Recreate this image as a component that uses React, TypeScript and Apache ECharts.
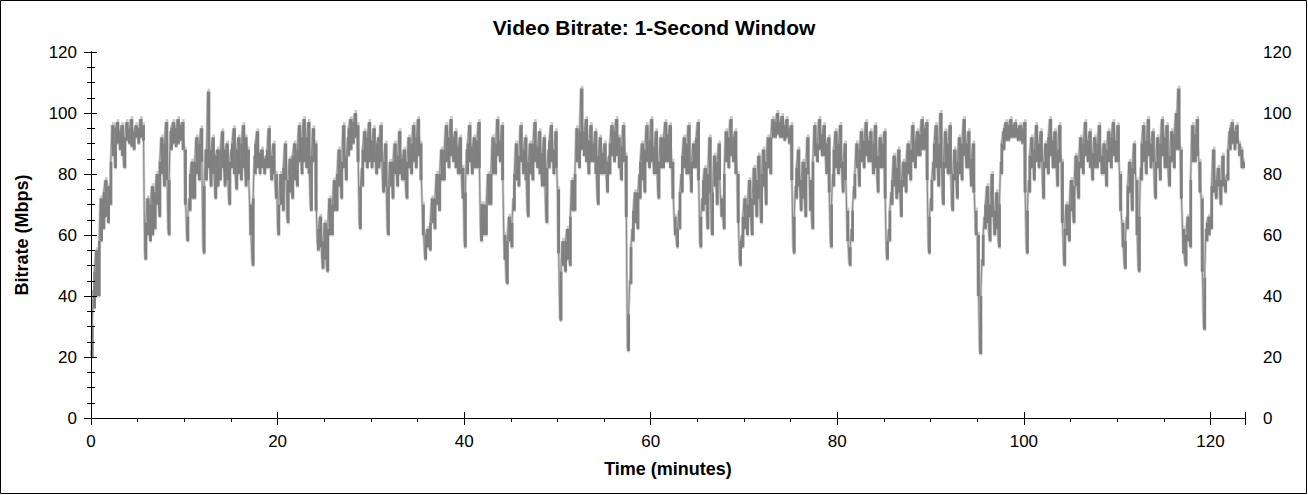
import React, { useEffect, useRef } from "react";
import * as echarts from "echarts";

const chartTitle = "Video Bitrate: 1-Second Window";
const xAxisTitle = "Time (minutes)";
const yAxisTitle = "Bitrate (Mbps)";
const sampleStepMinutes = 0.25;
const lowOffsetMinutes = 0.0625;
const midOffsetMinutes = 0.125;
const timeMaxMinutes = 123.7;
const yTicks = [0, 20, 40, 60, 80, 100, 120];
const xTickLabels = [0, 20, 40, 60, 80, 100, 120];

const bitrate: number[] = [
  22, 42, 55, 44, 72, 66, 78, 70, 74, 96, 86, 97, 92, 96, 83, 97,
  94, 98, 90, 96, 95, 98, 96, 55, 72, 62, 76, 68, 80, 70, 92, 82,
  97, 62, 94, 97, 93, 98, 95, 97, 88, 60, 72, 84, 78, 92, 82, 95,
  56, 88, 107, 80, 92, 76, 88, 82, 94, 80, 90, 72, 88, 95, 78, 92,
  84, 96, 80, 88, 70, 52, 86, 94, 85, 88, 84, 86, 95, 82, 90, 75,
  63, 80, 72, 90, 66, 85, 76, 90, 80, 96, 84, 98, 88, 97, 70, 95,
  90, 58, 66, 52, 64, 49, 72, 62, 78, 70, 88, 76, 96, 82, 92, 98,
  95, 100, 96, 64, 82, 94, 86, 97, 88, 95, 84, 92, 96, 78, 90, 62,
  84, 76, 90, 80, 94, 82, 88, 74, 92, 84, 96, 86, 98, 90, 70, 54,
  62, 58, 72, 66, 80, 72, 88, 82, 96, 86, 98, 88, 94, 84, 92, 76,
  58, 88, 96, 84, 92, 86, 97, 61, 70, 62, 80, 74, 92, 84, 98, 88,
  96, 60, 45, 66, 58, 72, 90, 80, 96, 84, 92, 68, 90, 82, 97, 86,
  94, 80, 92, 66, 88, 96, 84, 94, 75, 33, 58, 50, 62, 52, 78, 70,
  95, 86, 108, 92, 98, 84, 96, 88, 94, 72, 92, 84, 90, 78, 86, 96,
  90, 98, 92, 80, 96, 86, 23, 45, 62, 74, 66, 80, 90, 78, 96, 86,
  98, 84, 94, 74, 92, 86, 97, 88, 96, 84, 66, 58, 68, 80, 92, 84,
  96, 78, 90, 86, 97, 58, 72, 82, 66, 92, 61, 86, 76, 90, 70, 65,
  94, 86, 98, 88, 94, 80, 52, 60, 72, 64, 78, 62, 82, 70, 86, 66,
  88, 74, 92, 84, 98, 95, 100, 96, 99, 94, 98, 93, 96, 56, 76, 88,
  72, 84, 70, 92, 78, 65, 96, 88, 98, 90, 96, 84, 92, 58, 80, 94,
  84, 96, 78, 90, 68, 51, 62, 76, 90, 80, 94, 86, 97, 88, 94, 84,
  96, 78, 92, 86, 94, 54, 62, 74, 86, 76, 88, 70, 84, 78, 90, 82,
  96, 86, 94, 90, 98, 92, 97, 56, 72, 84, 96, 80, 100, 72, 94, 84,
  96, 70, 88, 76, 92, 82, 98, 86, 94, 80, 90, 68, 60, 22, 52, 66,
  76, 60, 80, 64, 74, 58, 84, 94, 97, 94, 98, 95, 97, 94, 96, 93,
  97, 56, 78, 92, 82, 96, 86, 94, 76, 90, 84, 98, 88, 94, 80, 96,
  84, 52, 70, 60, 78, 66, 86, 74, 92, 84, 97, 88, 94, 82, 92, 86,
  96, 84, 90, 80, 94, 86, 97, 88, 96, 80, 64, 50, 66, 84, 72, 90,
  78, 49, 82, 96, 84, 98, 86, 94, 74, 92, 82, 98, 88, 96, 78, 94,
  86, 100, 108, 88, 62, 51, 66, 58, 96, 88, 98, 84, 72, 30, 62, 66,
  64, 88, 74, 82, 72, 86, 76, 80, 94, 97, 92, 96, 90, 88, 84,
];

// Lowest reading (Mbps) inside each quarter-minute window, at t = i * 0.25 + 0.0625 min
const bitrateLow: number[] = [
  20, 36, 40, 40, 58, 62, 66, 64, 70, 86, 82, 90, 88, 86, 82, 91,
  90, 89, 88, 92, 90, 92, 91, 52, 60, 58, 60, 62, 70, 66, 80, 76,
  78, 60, 88, 90, 89, 90, 91, 88, 70, 58, 68, 72, 72, 80, 78, 84,
  54, 78, 82, 76, 80, 72, 76, 78, 82, 76, 78, 70, 82, 80, 75, 80,
  78, 82, 76, 78, 60, 50, 80, 82, 80, 82, 80, 82, 82, 78, 80, 72,
  60, 70, 68, 78, 64, 74, 72, 78, 76, 84, 80, 84, 82, 80, 68, 84,
  68, 55, 56, 49, 52, 48, 60, 60, 68, 68, 76, 72, 82, 78, 86, 88,
  90, 92, 84, 62, 76, 84, 82, 84, 82, 84, 80, 82, 84, 74, 76, 60,
  76, 72, 80, 76, 80, 78, 78, 72, 82, 80, 84, 82, 86, 78, 60, 52,
  56, 55, 64, 62, 70, 68, 78, 78, 84, 82, 86, 84, 82, 80, 80, 72,
  56, 80, 84, 80, 82, 82, 82, 58, 60, 60, 70, 70, 80, 80, 86, 84,
  78, 52, 44, 58, 56, 68, 78, 76, 84, 80, 78, 66, 80, 78, 84, 82,
  80, 76, 76, 64, 82, 84, 80, 82, 54, 32, 50, 48, 52, 50, 68, 68,
  84, 82, 88, 86, 84, 80, 84, 84, 80, 70, 80, 80, 80, 74, 80, 86,
  84, 86, 82, 78, 84, 66, 22, 44, 58, 64, 62, 72, 78, 74, 84, 82,
  84, 80, 80, 72, 82, 82, 84, 84, 82, 72, 60, 56, 62, 74, 82, 80,
  80, 74, 82, 82, 78, 56, 68, 70, 62, 74, 60, 76, 70, 78, 66, 62,
  84, 82, 86, 84, 80, 64, 50, 56, 62, 60, 66, 60, 70, 66, 72, 64,
  76, 70, 82, 80, 92, 92, 93, 92, 92, 91, 92, 90, 78, 54, 72, 76,
  68, 72, 66, 80, 68, 62, 86, 84, 88, 86, 86, 80, 74, 56, 76, 82,
  80, 82, 74, 78, 58, 50, 58, 72, 82, 76, 84, 82, 86, 84, 84, 80,
  82, 74, 82, 82, 72, 52, 58, 70, 76, 72, 74, 66, 76, 74, 80, 78,
  84, 82, 86, 86, 88, 88, 78, 54, 68, 78, 82, 76, 82, 70, 82, 80,
  80, 68, 78, 72, 80, 78, 86, 82, 82, 76, 74, 60, 40, 21, 50, 62,
  64, 58, 66, 60, 62, 56, 80, 88, 91, 91, 92, 92, 92, 91, 91, 90,
  74, 54, 74, 82, 78, 84, 82, 84, 72, 82, 80, 86, 82, 82, 76, 84,
  64, 50, 60, 58, 68, 64, 76, 72, 82, 80, 86, 84, 82, 78, 82, 82,
  84, 80, 80, 76, 84, 82, 86, 84, 84, 68, 56, 49, 62, 74, 68, 80,
  60, 48, 78, 84, 80, 86, 82, 84, 72, 82, 78, 86, 82, 82, 76, 84,
  82, 88, 88, 72, 54, 50, 58, 56, 84, 84, 86, 74, 48, 29, 58, 60,
  62, 74, 72, 76, 70, 76, 74, 78, 88, 90, 88, 90, 86, 82, 82,
];

// Video bitrate (Mbps) sampled at t = i * 0.25 + 0.125 min (in-between samples)
const bitrateMid: number[] = [
  30, 48, 46, 58, 68, 74, 71, 76, 84, 92, 95, 93, 94, 90, 92, 94,
  95, 93, 94, 95, 93, 95, 94, 64, 66, 70, 64, 74, 76, 84, 86, 90,
  84, 78, 95, 93, 95, 94, 96, 93, 74, 66, 80, 76, 84, 86, 90, 86,
  76, 84, 86, 88, 84, 86, 80, 88, 86, 88, 82, 84, 90, 84, 88, 86,
  90, 86, 92, 82, 62, 72, 90, 86, 87, 86, 85, 88, 88, 86, 84, 80,
  70, 76, 82, 84, 78, 80, 86, 84, 88, 90, 92, 88, 92, 84, 86, 90,
  72, 62, 60, 58, 56, 62, 66, 70, 74, 80, 82, 84, 88, 86, 95, 94,
  97, 96, 88, 76, 88, 90, 92, 88, 91, 88, 90, 86, 88, 84, 80, 76,
  80, 84, 85, 86, 86, 85, 82, 84, 88, 90, 89, 92, 93, 82, 62, 60,
  60, 64, 68, 72, 76, 80, 84, 88, 90, 92, 91, 92, 88, 89, 86, 82,
  74, 90, 88, 89, 88, 91, 86, 70, 66, 70, 77, 80, 86, 90, 92, 91,
  82, 56, 58, 62, 64, 80, 84, 86, 90, 88, 82, 84, 86, 90, 91, 89,
  86, 87, 80, 82, 91, 89, 88, 86, 56, 48, 55, 58, 56, 66, 74, 80,
  90, 94, 96, 94, 90, 91, 92, 90, 84, 86, 88, 87, 85, 84, 90, 92,
  94, 93, 88, 89, 91, 70, 34, 56, 68, 70, 74, 84, 84, 88, 90, 91,
  90, 89, 86, 84, 89, 92, 91, 93, 90, 76, 62, 62, 74, 86, 88, 90,
  86, 84, 88, 92, 82, 66, 78, 74, 80, 78, 74, 80, 84, 80, 72, 80,
  90, 92, 91, 92, 86, 68, 58, 66, 68, 70, 70, 72, 76, 78, 76, 80,
  82, 84, 88, 92, 96, 97, 96, 97, 96, 96, 95, 95, 80, 66, 82, 80,
  78, 76, 82, 84, 72, 84, 92, 90, 94, 93, 90, 90, 76, 70, 88, 86,
  90, 86, 84, 82, 60, 56, 68, 80, 86, 88, 90, 91, 92, 91, 89, 90,
  88, 86, 89, 90, 74, 58, 68, 78, 80, 82, 78, 78, 80, 84, 86, 88,
  90, 91, 92, 93, 94, 95, 80, 66, 78, 90, 88, 90, 86, 84, 88, 90,
  84, 80, 82, 84, 86, 90, 92, 90, 86, 85, 78, 64, 44, 40, 60, 70,
  68, 70, 72, 68, 66, 70, 90, 95, 95, 96, 96, 96, 95, 95, 94, 95,
  76, 68, 86, 86, 88, 90, 90, 88, 84, 86, 92, 92, 91, 86, 88, 90,
  66, 62, 64, 70, 72, 76, 80, 84, 88, 90, 92, 91, 88, 87, 89, 90,
  90, 86, 85, 88, 90, 92, 92, 91, 88, 70, 58, 58, 76, 78, 82, 84,
  62, 66, 90, 90, 91, 92, 90, 88, 84, 86, 90, 92, 92, 86, 86, 90,
  93, 96, 95, 74, 56, 60, 62, 78, 92, 93, 90, 78, 50, 46, 64, 62,
  76, 80, 78, 80, 78, 80, 78, 88, 95, 94, 94, 93, 89, 86,
];

const FONT = "'Liberation Sans', Arial, Helvetica, sans-serif";

export default function App() {
  const ref = useRef<HTMLDivElement>(null);

  useEffect(() => {
    if (!ref.current) return;
    const chart = echarts.init(ref.current, undefined, { renderer: "svg" });

    // all readings, in time order
    const points: number[][] = [];
    // per quarter-minute window: [window centre, min reading, max reading]
    const windows: number[][] = [];
    bitrate.forEach((v, i) => {
      const t = i * sampleStepMinutes;
      const readings = [v];
      points.push([t, v]);
      if (i < bitrateLow.length) {
        points.push([t + lowOffsetMinutes, bitrateLow[i]]);
        readings.push(bitrateLow[i]);
      }
      if (i < bitrateMid.length) {
        points.push([t + midOffsetMinutes, bitrateMid[i]]);
        readings.push(bitrateMid[i]);
      }
      windows.push([t + midOffsetMinutes, Math.min(...readings), Math.max(...readings)]);
    });

    const makeBars = (fill: string, padTop: number, padBottom: number) =>
      (params: any, api: any) => {
        const t = api.value(0);
        const top = api.coord([t, api.value(2)]);
        const bot = api.coord([t, api.value(1)]);
        const w = api.size([sampleStepMinutes, 0])[0];
        const x0 = Math.max(top[0] - w / 2, params.coordSys.x);
        const x1 = Math.min(top[0] + w / 2 + 0.3, params.coordSys.x + params.coordSys.width);
        return {
          type: "rect",
          shape: {
            x: x0,
            y: top[1] - padTop,
            width: Math.max(x1 - x0, 0),
            height: Math.max(bot[1] - top[1], 1) + padTop + padBottom,
          },
          style: { fill },
        };
      };

    const gridPos = { left: 91, right: 63, top: 52, bottom: 77, containLabel: false };
    const black = { color: "#000", width: 1 };
    const xBase = { type: "value" as const, min: 0, max: timeMaxMinutes, splitLine: { show: false } };
    const yBase = { type: "value" as const, min: 0, max: 120, interval: 20, splitLine: { show: false } };
    const tickLabelStyle = { color: "#000", fontFamily: FONT, fontSize: 17 };
    const nameStyle = { fontFamily: FONT, fontSize: 18, fontWeight: "bold", color: "#000" };

    chart.setOption({
      animation: false,
      backgroundColor: "#fff",
      title: {
        text: chartTitle,
        left: "center",
        top: 12,
        textStyle: { fontFamily: FONT, fontSize: 21, fontWeight: "bold", color: "#000" },
      },
      graphic: [
        {
          type: "rect",
          shape: { x: 0.5, y: 0.5, width: 1306, height: 493 },
          style: { fill: "none", stroke: "#000", lineWidth: 1 },
          silent: true,
          z: 100,
        },
      ],
      grid: [gridPos, gridPos, gridPos],
      xAxis: [
        {
          ...xBase,
          gridIndex: 0,
          position: "bottom",
          interval: 20,
          axisLine: { show: true, lineStyle: black },
          axisTick: { show: true, inside: false, length: 7, lineStyle: black },
          axisLabel: {
            show: true,
            ...tickLabelStyle,
            margin: 15,
            formatter: (v: number) => (xTickLabels.includes(v) ? String(v) : ""),
          },
          name: xAxisTitle,
          nameLocation: "middle",
          nameGap: 42,
          nameTextStyle: nameStyle,
          z: 10,
        },
        {
          ...xBase,
          gridIndex: 0,
          position: "top",
          interval: 20,
          axisLine: { show: true, lineStyle: black },
          axisTick: { show: true, inside: true, length: 6, lineStyle: black },
          axisLabel: { show: false },
          z: 10,
        },
        {
          ...xBase,
          gridIndex: 1,
          position: "bottom",
          interval: 5,
          axisLine: { show: false },
          axisTick: { show: true, inside: false, length: 4, lineStyle: black },
          axisLabel: { show: false },
        },
        {
          ...xBase,
          gridIndex: 1,
          position: "top",
          interval: 5,
          axisLine: { show: false },
          axisTick: { show: true, inside: true, length: 3, lineStyle: black },
          axisLabel: { show: false },
        },
        {
          ...xBase,
          gridIndex: 2,
          position: "bottom",
          interval: 20,
          axisLine: { show: false },
          axisTick: { show: true, inside: true, length: 6, lineStyle: black },
          axisLabel: { show: false },
        },
      ],
      yAxis: [
        {
          ...yBase,
          gridIndex: 0,
          position: "left",
          axisLine: { show: true, lineStyle: black },
          axisTick: { show: true, inside: false, length: 7, lineStyle: black },
          minorTick: { show: true, splitNumber: 4, length: 4, lineStyle: black },
          minorSplitLine: { show: false },
          axisLabel: {
            ...tickLabelStyle,
            margin: 14,
            formatter: (v: number) => (yTicks.includes(v) ? String(v) : ""),
          },
          name: yAxisTitle,
          nameLocation: "middle",
          nameGap: 60,
          nameTextStyle: nameStyle,
          z: 10,
        },
        {
          ...yBase,
          gridIndex: 0,
          position: "right",
          axisLine: { show: true, lineStyle: black },
          axisTick: { show: true, inside: false, length: 6, lineStyle: black },
          minorTick: { show: true, splitNumber: 4, length: 4, lineStyle: black },
          minorSplitLine: { show: false },
          axisLabel: {
            ...tickLabelStyle,
            margin: 18,
            formatter: (v: number) => (yTicks.includes(v) ? String(v) : ""),
          },
          z: 10,
        },
        {
          ...yBase,
          gridIndex: 1,
          position: "left",
          axisLine: { show: false },
          axisTick: { show: true, inside: true, length: 6, lineStyle: black },
          axisLabel: { show: false },
        },
        {
          ...yBase,
          gridIndex: 1,
          position: "right",
          axisLine: { show: false },
          axisTick: { show: true, inside: true, length: 6, lineStyle: black },
          axisLabel: { show: false },
        },
        {
          ...yBase,
          gridIndex: 2,
          position: "left",
          axisLine: { show: false },
          axisTick: { show: false },
          axisLabel: { show: false },
        },
      ],
      series: [
        {
          name: "Window range halo",
          type: "custom",
          xAxisIndex: 0,
          yAxisIndex: 0,
          data: windows,
          renderItem: makeBars("#c9c9c9", 3, 1.5),
          z: 1,
        },
        {
          name: "Bitrate halo",
          type: "line",
          xAxisIndex: 0,
          yAxisIndex: 0,
          data: points,
          showSymbol: false,
          symbol: "none",
          lineStyle: { color: "#c9c9c9", width: 2.6 },
          z: 1,
        },
        {
          name: "Window range",
          type: "custom",
          xAxisIndex: 0,
          yAxisIndex: 0,
          data: windows,
          renderItem: makeBars("#808080", 0, 0),
          z: 2,
        },
        {
          name: "Bitrate",
          type: "line",
          xAxisIndex: 0,
          yAxisIndex: 0,
          data: points,
          showSymbol: false,
          symbol: "none",
          lineStyle: { color: "#808080", width: 0.9 },
          z: 3,
        },
      ],
    });

    return () => chart.dispose();
  }, []);

  return (
    <div
      ref={ref}
      style={{ position: "absolute", left: 0, top: 0, width: 1308, height: 495, background: "#fff" }}
    />
  );
}
